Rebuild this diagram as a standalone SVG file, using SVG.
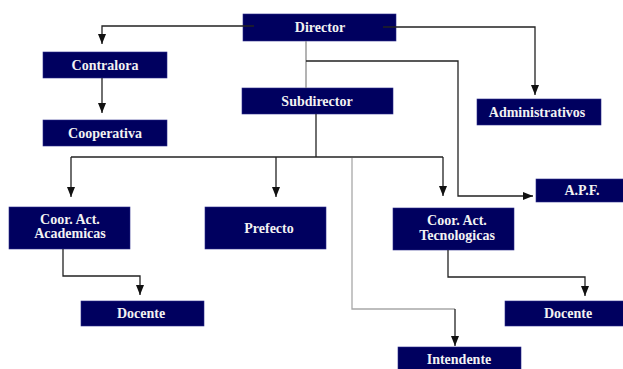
<svg xmlns="http://www.w3.org/2000/svg" width="623" height="369" viewBox="0 0 623 369">
  <style>
    .box { fill: #00005f; stroke: #2a2a8a; stroke-width: 0.6; }
    .lbl { font-family: "Liberation Serif", "Times New Roman", serif; font-weight: bold; font-size: 14px; fill: #f2f2f2; text-anchor: middle; }
    .ln { fill: none; stroke: #222; stroke-width: 1.3; }
    .ln-mid { fill: none; stroke: #8a8a8a; stroke-width: 1.3; }
    .ln-light { fill: none; stroke: #a8a8a8; stroke-width: 1.3; }
  </style>
  <defs>
    <marker id="arrow" viewBox="0 0 10 8" refX="10" refY="4" markerWidth="10" markerHeight="8" markerUnits="userSpaceOnUse" orient="auto">
      <path d="M0,0 L10,4 L0,8 Z" fill="#111"/>
    </marker>
  </defs>
  <rect width="623" height="369" fill="#ffffff"/>

  <g id="director">
    <rect class="box" x="243" y="14" width="153" height="27"/>
    <text class="lbl" x="320" y="32">Director</text>
  </g>
  <g id="contralora">
    <rect class="box" x="43" y="52" width="124" height="26"/>
    <text class="lbl" x="105" y="70">Contralora</text>
  </g>
  <g id="cooperativa">
    <rect class="box" x="43" y="120" width="124" height="26"/>
    <text class="lbl" x="105" y="138">Cooperativa</text>
  </g>
  <g id="subdirector">
    <rect class="box" x="242" y="88" width="151" height="26"/>
    <text class="lbl" x="317" y="106">Subdirector</text>
  </g>
  <g id="administrativos">
    <rect class="box" x="477" y="99" width="124" height="26"/>
    <text class="lbl" x="537" y="117">Administrativos</text>
  </g>
  <g id="apf">
    <rect class="box" x="536" y="179" width="90" height="23"/>
    <text class="lbl" x="582" y="195">A.P.F.</text>
  </g>
  <g id="coor-academicas">
    <rect class="box" x="9" y="207" width="121" height="42"/>
    <text class="lbl" x="70" y="224">Coor. Act.</text>
    <text class="lbl" x="70" y="238">Academicas</text>
  </g>
  <g id="prefecto">
    <rect class="box" x="205" y="207" width="121" height="42"/>
    <text class="lbl" x="269" y="233">Prefecto</text>
  </g>
  <g id="coor-tecnologicas">
    <rect class="box" x="393" y="208" width="121" height="42"/>
    <text class="lbl" x="457" y="225">Coor. Act.</text>
    <text class="lbl" x="457" y="240">Tecnologicas</text>
  </g>
  <g id="docente-academicas">
    <rect class="box" x="81" y="301" width="123" height="25"/>
    <text class="lbl" x="141" y="318">Docente</text>
  </g>
  <g id="docente-tecnologicas">
    <rect class="box" x="505" y="301" width="120" height="25"/>
    <text class="lbl" x="568" y="318">Docente</text>
  </g>
  <g id="intendente">
    <rect class="box" x="398" y="347" width="123" height="25"/>
    <text class="lbl" x="459" y="364">Intendente</text>
  </g>

  <g id="connectors">
    <!-- Director branches -->
    <path class="ln" d="M254,26 H102 V44" marker-end="url(#arrow)"/>
    <path class="ln" d="M383,27 H535 V95" marker-end="url(#arrow)"/>
    <path class="ln-mid" d="M306,41 V88"/>
    <path class="ln" d="M306,61 H458 V196 H533" marker-end="url(#arrow)"/>
    <!-- Contralora to Cooperativa -->
    <path class="ln" d="M102,78 V113" marker-end="url(#arrow)"/>
    <!-- Subdirector branches -->
    <path class="ln" d="M316,114 V157"/>
    <path class="ln" d="M71,157 H443"/>
    <path class="ln" d="M71,157 V197" marker-end="url(#arrow)"/>
    <path class="ln" d="M276,157 V197" marker-end="url(#arrow)"/>
    <path class="ln" d="M443,157 V196" marker-end="url(#arrow)"/>
    <path class="ln-light" d="M352,158 V309 H455"/>
    <path class="ln" d="M455,309 V346" marker-end="url(#arrow)"/>
    <!-- Coordinators to teachers -->
    <path class="ln" d="M63,249 V276 H140 V295" marker-end="url(#arrow)"/>
    <path class="ln" d="M448,250 V277 H585 V296" marker-end="url(#arrow)"/>
  </g>
</svg>
